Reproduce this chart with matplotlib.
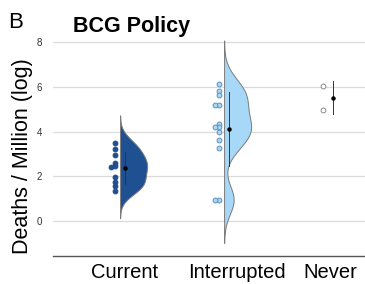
import numpy as np
import matplotlib
matplotlib.use('Agg')
import matplotlib.pyplot as plt

plt.rcParams['font.family'] = ['Liberation Sans', 'DejaVu Sans']

# deaths per million (log)
groups = ['Current', 'Interrupted', 'Never']
current = [3.5, 3.2, 2.95, 2.6, 2.45, 2.4, 1.95, 1.75, 1.55, 1.35]
interrupted = [6.14, 5.8, 5.65, 5.2, 5.2, 4.35, 4.2, 4.2, 4.0, 3.6, 3.27, 0.95, 0.95]
never = [6.02, 4.98]
values = [current, interrupted, never]

fills = ['#1f5091', '#a8d8f8', None]
pt_face = ['#1f5091', '#a8d8f8', 'white']
pt_edge = ['#1f4a85', '#5f8fb8', '#8a8a8a']


def silverman_bw(x):
    x = np.asarray(x)
    sd = x.std(ddof=1)
    iqr = np.subtract(*np.percentile(x, [75, 25]))
    lo = min(sd, iqr / 1.34)
    return 0.9 * lo * len(x) ** -0.2


def kde(x, bw, grid):
    x = np.asarray(x)
    d = (grid[:, None] - x[None, :]) / bw
    return np.exp(-0.5 * d ** 2).sum(axis=1)


fig = plt.figure(figsize=(3.65, 2.84), dpi=100)
ax = fig.add_axes([53 / 365, 28 / 284, 312 / 365, 216 / 284])

half_width = 0.26
for i, vals in enumerate(values):
    vals = np.asarray(vals)
    base = i - 0.045
    if len(vals) >= 3:
        bw = silverman_bw(vals)
        grid = np.linspace(vals.min() - 3 * bw, vals.max() + 3 * bw, 400)
        dens = kde(vals, bw, grid)
        dens = dens / dens.max() * half_width
        ax.fill_betweenx(grid, base, base + dens, facecolor=fills[i],
                         edgecolor='#7a7a7a', linewidth=0.7, zorder=2)

    # rain: points left of the cloud, nudging near-duplicates sideways
    xs = []
    placed = []
    for v in vals:
        col = 0
        while any(abs(v - pv) < 0.12 and pc == col for pv, pc in placed):
            col += 1
        placed.append((v, col))
        xs.append(i - 0.095 - 0.04 * col)
    ax.scatter(xs, vals, s=12, facecolor=pt_face[i], edgecolor=pt_edge[i],
               linewidth=0.7, zorder=3)

    # mean +/- sd
    m = vals.mean()
    sd = vals.std(ddof=1)
    ax.plot([i, i], [m - sd, m + sd], color='#333333', linewidth=0.7, zorder=4)
    ax.plot(i, m, 'o', color='black', markersize=2.2, zorder=5)

ax.set_xlim(-0.69, 2.31)
ax.set_ylim(-1.564, 8.09)
ax.set_yticks([0, 2, 4, 6, 8])
ax.set_xticks([0, 1.075, 1.98])
ax.set_xticklabels(groups, fontsize=14.5)
ax.tick_params(axis='x', length=0, pad=5, colors='black')
ax.tick_params(axis='y', length=0, pad=8, labelsize=7, labelcolor='#333333')
ax.grid(axis='y', color='#dcdcdc', linewidth=0.9, zorder=0)
ax.set_axisbelow(True)
for s in ['left', 'top', 'right']:
    ax.spines[s].set_visible(False)
ax.spines['bottom'].set_color('#555555')
ax.spines['bottom'].set_linewidth(1.0)

fig.text(23 / 365, 1 - 156.5 / 284, 'Deaths / Million (log)', rotation=90,
         ha='center', va='center', fontsize=15.5)
fig.text(73 / 365, 1 - 32 / 284, 'BCG Policy', fontsize=15.5,
         fontweight='bold', ha='left', va='baseline')
fig.text(8 / 365, 1 - 28 / 284, 'B', fontsize=16, ha='left', va='baseline')

fig.savefig('out.png', dpi=100)
